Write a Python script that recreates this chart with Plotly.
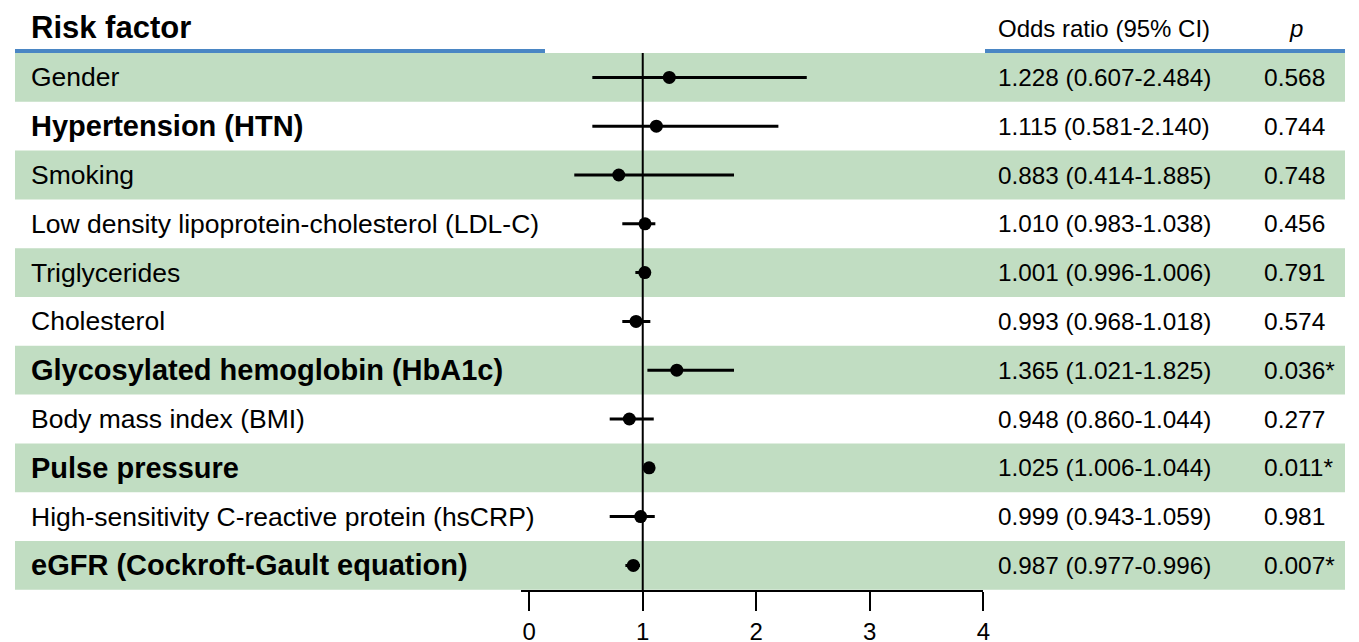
import plotly.graph_objects as go

# ---------------- data ----------------
factors = [
    "Gender",
    "Hypertension (HTN)",
    "Smoking",
    "Low density lipoprotein-cholesterol (LDL-C)",
    "Triglycerides",
    "Cholesterol",
    "Glycosylated hemoglobin (HbA1c)",
    "Body mass index (BMI)",
    "Pulse pressure",
    "High-sensitivity C-reactive protein (hsCRP)",
    "eGFR (Cockroft-Gault equation)",
]
# plotted estimates
or_point = [1.234, 1.120, 0.789, 1.020, 1.018, 0.941, 1.300, 0.882, 1.056, 0.982, 0.917]
ci_low   = [0.556, 0.556, 0.397, 0.820, 0.935, 0.820, 1.041, 0.709, 1.011, 0.709, 0.847]
ci_high  = [2.445, 2.195, 1.804, 1.111, 1.064, 1.067, 1.804, 1.097, 1.100, 1.106, 0.976]
or_text = [
    "1.228 (0.607-2.484)",
    "1.115 (0.581-2.140)",
    "0.883 (0.414-1.885)",
    "1.010 (0.983-1.038)",
    "1.001 (0.996-1.006)",
    "0.993 (0.968-1.018)",
    "1.365 (1.021-1.825)",
    "0.948 (0.860-1.044)",
    "1.025 (1.006-1.044)",
    "0.999 (0.943-1.059)",
    "0.987 (0.977-0.996)",
]
p_text = ["0.568", "0.744", "0.748", "0.456", "0.791", "0.574",
          "0.036*", "0.277", "0.011*", "0.981", "0.007*"]
tick_vals = [0, 1, 2, 3, 4]
tick_text = ["0", "1", "2", "3", "4"]
emphasized = ["Hypertension (HTN)", "Glycosylated hemoglobin (HbA1c)",
              "Pulse pressure", "eGFR (Cockroft-Gault equation)"]

# ---------------- layout constants ----------------
OFF = 8                      # default page body margin
W, H = 1359 - OFF, 642 - OFF
GREEN = "rgb(193,221,194)"
BLUE = "rgb(74,134,196)"
FONT = "Liberation Sans, Arial, sans-serif"
n = len(factors)
rows = list(range(n))
row_px = 48.8
first_px = 77.4 - OFF
plot_h = 590 - OFF
y_top = -first_px / row_px
y_bot = (plot_h - first_px) / row_px
x_start = -0.075             # axis line begins slightly left of 0 in the original

def px(x):
    return (x - OFF) / W

fig = go.Figure()

fig.add_trace(go.Scatter(
    x=or_point, y=rows, mode="markers",
    marker=dict(color="black", size=13),
    error_x=dict(type="data", symmetric=False,
                 array=[h - p for h, p in zip(ci_high, or_point)],
                 arrayminus=[p - l for p, l in zip(or_point, ci_low)],
                 color="black", thickness=3, width=0),
    hoverinfo="skip", showlegend=False,
))

shapes = []
for i in rows:
    if i % 2 == 0:
        shapes.append(dict(type="rect", xref="paper", yref="y",
                           x0=px(15), x1=px(1345), y0=i - 0.5, y1=i + 0.5,
                           fillcolor=GREEN, line=dict(width=0), layer="below"))
# header underlines
shapes.append(dict(type="line", xref="paper", yref="y", x0=px(15), x1=px(545),
                   y0=-0.54, y1=-0.54, line=dict(color=BLUE, width=4)))
shapes.append(dict(type="line", xref="paper", yref="y", x0=px(985), x1=px(1345),
                   y0=-0.54, y1=-0.54, line=dict(color=BLUE, width=4)))
# reference line at OR = 1
shapes.append(dict(type="line", xref="x", yref="y", x0=1, x1=1,
                   y0=-0.5, y1=y_bot, line=dict(color="black", width=2), layer="below"))

annotations = []
annotations.append(dict(text="<b>Risk factor</b>", x=px(29), y=-1.02, xref="paper", yref="y",
                        xanchor="left", yanchor="middle", showarrow=False,
                        font=dict(family=FONT, size=31, color="black")))
annotations.append(dict(text="Odds ratio (95% CI)", x=px(996), y=-1.0, xref="paper", yref="y",
                        xanchor="left", yanchor="middle", showarrow=False,
                        font=dict(family=FONT, size=24, color="black")))
annotations.append(dict(text="<i>p</i>", x=px(1296), y=-1.0, xref="paper", yref="y",
                        xanchor="center", yanchor="middle", showarrow=False,
                        font=dict(family=FONT, size=24, color="black")))
for i, name in enumerate(factors):
    bold = name in emphasized
    annotations.append(dict(text=(f"<b>{name}</b>" if bold else name),
                            x=px(29), y=i, xref="paper", yref="y",
                            xanchor="left", yanchor="middle", showarrow=False,
                            font=dict(family=FONT, size=(29 if bold else 26.5), color="black")))
    annotations.append(dict(text=or_text[i], x=px(996), y=i, xref="paper", yref="y",
                            xanchor="left", yanchor="middle", showarrow=False,
                            font=dict(family=FONT, size=24.3, color="black")))
    annotations.append(dict(text=p_text[i], x=px(1262), y=i, xref="paper", yref="y",
                            xanchor="left", yanchor="middle", showarrow=False,
                            font=dict(family=FONT, size=24.5, color="black")))

fig.update_layout(
    width=W, height=H,
    margin=dict(l=0, r=0, t=0, b=H - plot_h, pad=0),
    paper_bgcolor="white", plot_bgcolor="rgba(0,0,0,0)",
    shapes=shapes, annotations=annotations,
    xaxis=dict(domain=[px(520.7), px(983.3)], range=[x_start, 4],
               tickvals=tick_vals, ticktext=tick_text,
               showline=True, linecolor="black", linewidth=2,
               ticks="outside", ticklen=19, tickwidth=2, tickcolor="black",
               tickfont=dict(family=FONT, size=24, color="black"),
               showgrid=False, zeroline=False, automargin=False, fixedrange=True),
    yaxis=dict(range=[y_bot, y_top], visible=False, showgrid=False,
               zeroline=False, automargin=False, fixedrange=True),
    showlegend=False,
)

fig.write_html("out.html")
